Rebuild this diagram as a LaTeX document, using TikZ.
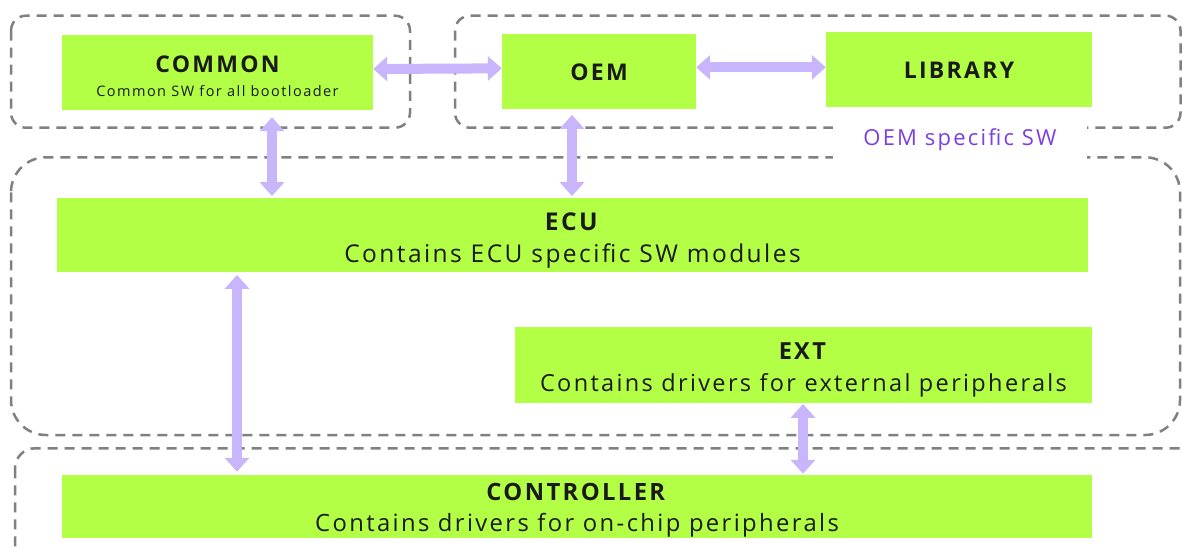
\documentclass[tikz,border=0pt]{standalone}
\usepackage{fontspec}
\setmainfont{Open Sans}[LetterSpace=10]
\usetikzlibrary{arrows.meta}
\definecolor{boxgreen}{HTML}{B2FF46}
\definecolor{arrowlav}{HTML}{C8B5FC}
\definecolor{dashgray}{HTML}{808080}
\definecolor{labelpurple}{HTML}{7B3FE4}
\definecolor{textdark}{HTML}{1A1A1A}
\begin{document}
\begin{tikzpicture}[x=1pt,y=-1pt,
  swbox/.style={fill=boxgreen, draw=none, inner sep=0pt, align=center, text=textdark},
  group/.style={draw=dashgray, line width=2.5pt, dash pattern=on 10pt off 7pt},
  biarrow/.style={draw=arrowlav, line width=10pt, {Triangle[width=24pt,length=14pt]}-{Triangle[width=24pt,length=14pt]}},
]
\useasboundingbox (0,0) rectangle (1182,548);
\clip (0,0) rectangle (1182,548);

% dashed groups
\draw[group, rounded corners=15pt] (11,15.7) rectangle (410,127.7);
\draw[group, rounded corners=15pt] (455,15.7) rectangle (1180.5,127.7);
\draw[group, rounded corners=35pt] (11,157.3) rectangle (1180,435);
\draw[group, rounded corners=20pt] (15,448.3) rectangle (1205,620);

\node[fill=white, minimum width=254pt, minimum height=40pt, text=labelpurple,
      font=\fontsize{22}{22}\selectfont] (oemlbl) at (960,140) {OEM specific SW};

% boxes
\node[swbox, minimum width=311pt, minimum height=75pt, font=\fontsize{14.5}{24}\selectfont] (common) at (217.5,72.5)
  {{\fontsize{23}{24}\selectfont\bfseries\rule{0pt}{24pt}COMMON}\\Common SW for all bootloader};
\node[swbox, minimum width=194pt, minimum height=74.7pt, font=\fontsize{23}{24}\selectfont\bfseries] (oem) at (599,71.35) {\rule{0pt}{18pt}OEM};
\node[swbox, minimum width=266pt, minimum height=74.7pt, font=\fontsize{23}{24}\selectfont\bfseries] (library) at (959,69.35) {\rule{0pt}{18pt}LIBRARY};
\node[swbox, minimum width=1031pt, minimum height=73.4pt, font=\fontsize{24.5}{32}\selectfont] (ecu) at (572.5,235)
  {\rule{0pt}{28pt}\textbf{ECU}\\Contains ECU specific SW modules};
\node[swbox, minimum width=577pt, minimum height=75.7pt, font=\fontsize{23.5}{32}\selectfont] (ext) at (803.5,364.85)
  {\rule{0pt}{26pt}\textbf{EXT}\\Contains drivers for external peripherals};
\node[swbox, minimum width=1030pt, minimum height=62.7pt, font=\fontsize{23.8}{31}\selectfont] (ctrl) at (577,506.35)
  {\rule{0pt}{26pt}\textbf{CONTROLLER}\\Contains drivers for on-chip peripherals};

% connectors
\draw[biarrow] ([yshift=3.5pt]common.east) -- ([yshift=3pt]oem.west);
\draw[biarrow] ([yshift=4pt]oem.east) -- ([yshift=2pt]library.west);
\draw[biarrow, shorten <=7pt, shorten >=2pt] ([xshift=54.5pt]common.south) -- ([xshift=-300.5pt]ecu.north);
\draw[biarrow, shorten <=6pt, shorten >=2pt] ([xshift=-27pt]oem.south) -- ([xshift=-0.5pt]ecu.north);
\draw[biarrow, shorten <=3pt, shorten >=3pt] ([xshift=-335.5pt]ecu.south) -- ([xshift=-340pt]ctrl.north);
\draw[biarrow, shorten <=1pt, shorten >=1pt] ([xshift=-0.5pt]ext.south) -- ([xshift=226pt]ctrl.north);
\end{tikzpicture}
\end{document}
